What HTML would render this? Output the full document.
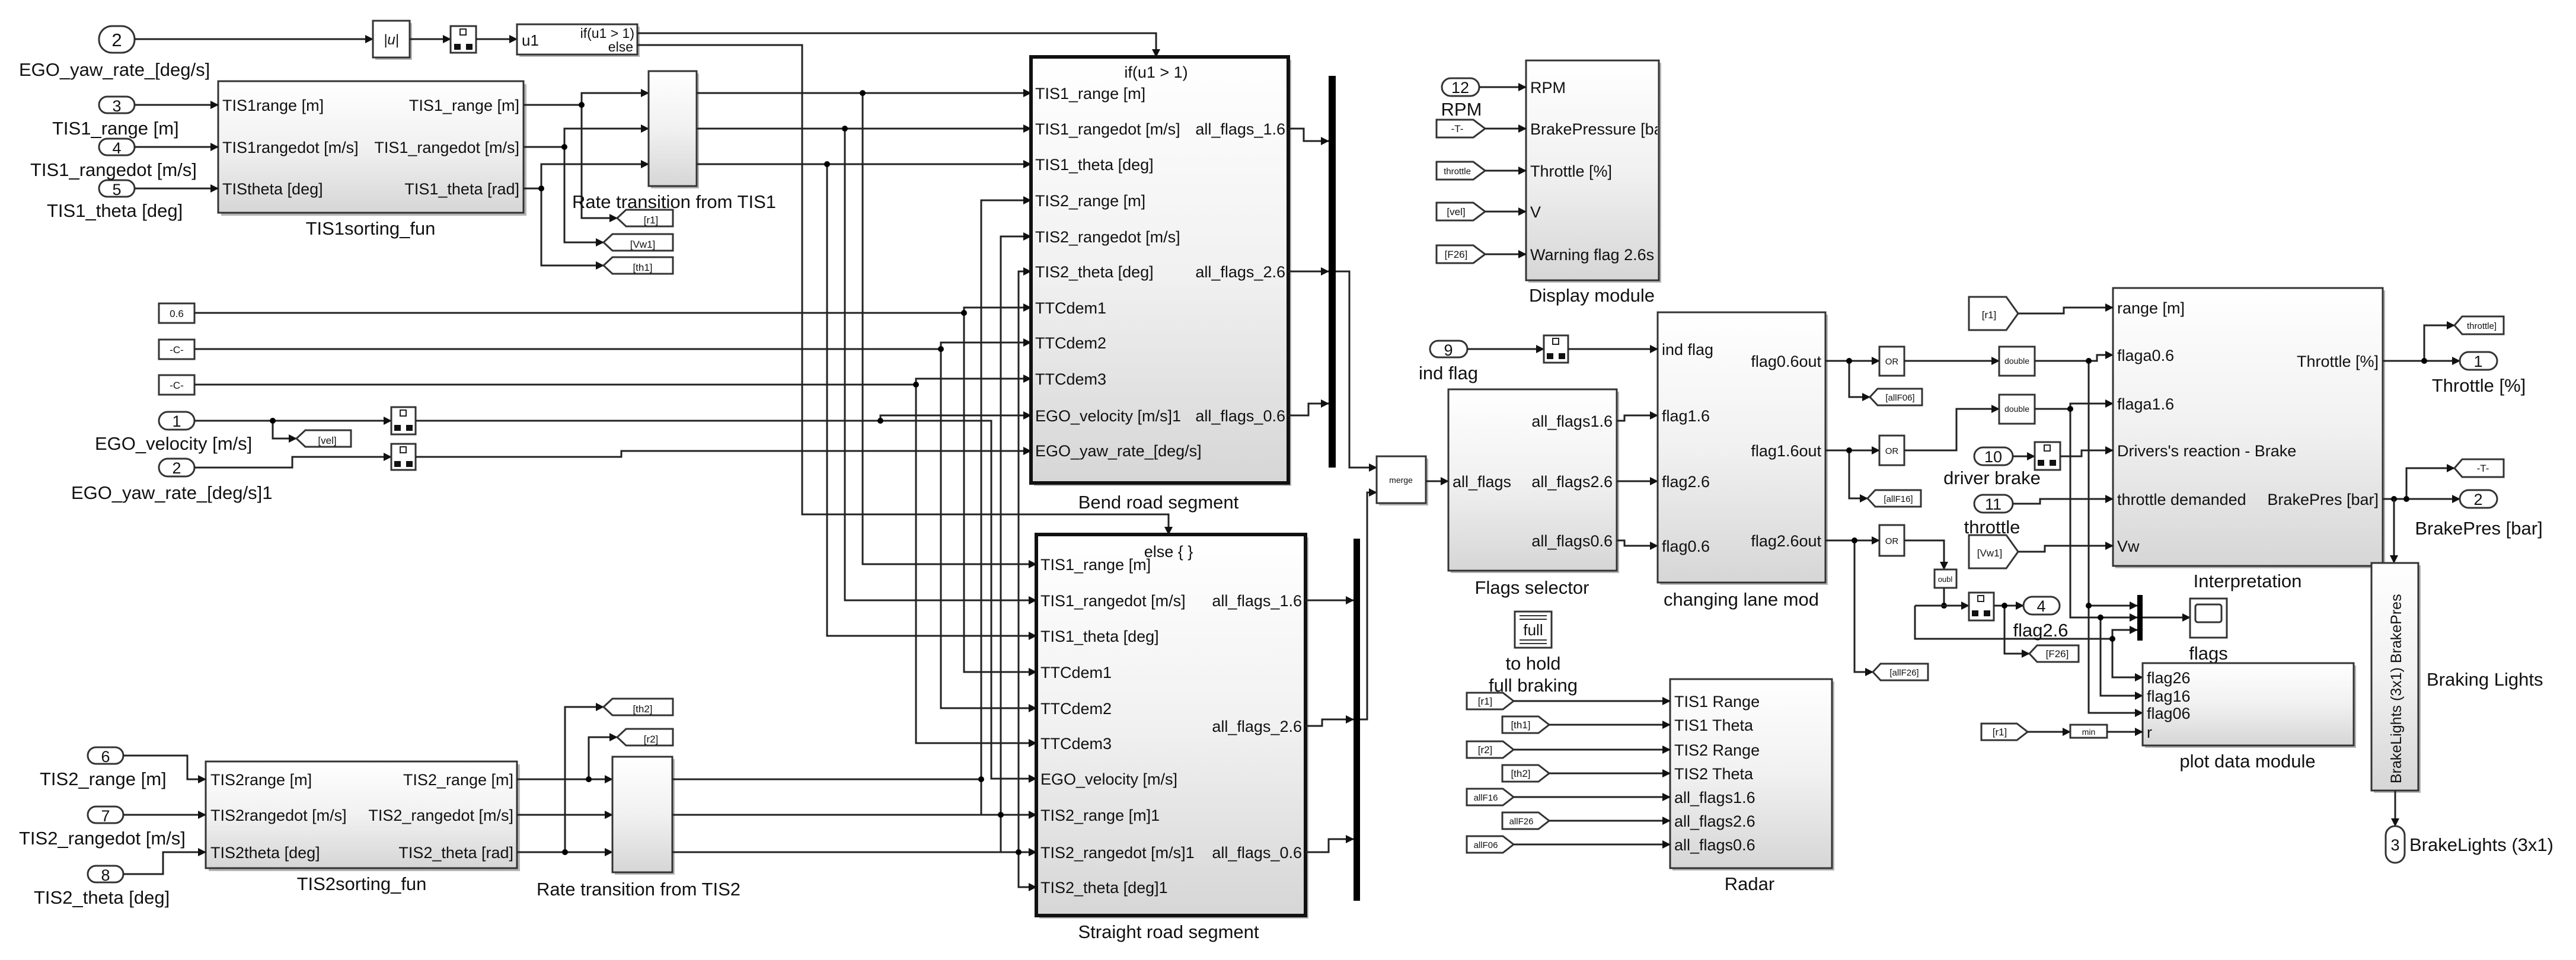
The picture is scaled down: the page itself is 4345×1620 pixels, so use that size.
<!DOCTYPE html>
<html><head><meta charset="utf-8"><style>
html,body{margin:0;padding:0;background:#fff;}
svg{display:block;}
text{font-family:"Liberation Sans",Arial,sans-serif;fill:#111;}
.p{font-size:27px;}
.l{font-size:31px;}
.s{font-size:17px;}
.w{fill:none;stroke:#222;stroke-width:3;}
.wa{fill:none;stroke:#222;stroke-width:3;marker-end:url(#a);}
.b{fill:url(#g);stroke:#333;stroke-width:3;}
.bt{fill:url(#g);stroke:#111;stroke-width:6;}
.pl{fill:#fff;stroke:#333;stroke-width:3;}
.sh{fill:#b5b5b5;}
</style></head><body>
<svg width="4345" height="1620" viewBox="0 0 4345 1620" xmlns="http://www.w3.org/2000/svg">
<defs>
<linearGradient id="g" x1="0" y1="0" x2="0" y2="1"><stop offset="0" stop-color="#ffffff"/><stop offset="0.5" stop-color="#f1f1f1"/><stop offset="1" stop-color="#d6d6d6"/></linearGradient>
<marker id="a" markerWidth="14" markerHeight="14" refX="13" refY="7" orient="auto" markerUnits="userSpaceOnUse"><path d="M0,0 L14,7 L0,14z" fill="#111"/></marker>
<clipPath id="dc"><rect x="2574" y="100" width="222" height="375"/></clipPath>
</defs>
<rect width="4345" height="1620" fill="#fff"/>

<!-- ===== top row ===== -->
<rect x="167" y="44" width="60" height="45" rx="22" class="pl"/><text x="197" y="78" class="l" text-anchor="middle">2</text>
<text x="32" y="128" class="l">EGO_yaw_rate_[deg/s]</text>
<path d="M227 66 H629" class="wa"/>
<rect x="633" y="39" width="62" height="62" class="sh"/><rect x="629" y="35" width="62" height="62" class="pl"/><text x="660" y="75" font-size="24" font-style="italic" text-anchor="middle">|u|</text>
<path d="M691 66 H760" class="wa"/>
<rect x="760" y="44" width="43" height="45" class="pl"/><rect x="776" y="49" width="10" height="10" fill="none" stroke="#222" stroke-width="2"/><rect x="766" y="74" width="11" height="10" fill="#111"/><rect x="786" y="74" width="11" height="10" fill="#111"/>
<path d="M803 66 H872" class="wa"/>
<rect x="876" y="45" width="203" height="51" class="sh"/><rect x="872" y="41" width="203" height="51" class="pl"/>
<text x="880" y="77" font-size="26">u1</text><text x="1070" y="64" font-size="23" text-anchor="end">if(u1 &gt; 1)</text><text x="1068" y="87" font-size="23" text-anchor="end">else</text>
<path d="M1075 56 H1950 V96" class="wa"/>
<path d="M1075 76 H1353 V868 H1971 V902" class="wa"/>

<!-- ===== TIS1 ===== -->
<rect x="373" y="142" width="515" height="222" class="sh"/><rect x="368" y="137" width="515" height="222" class="b"/>
<text x="375" y="187" class="p">TIS1range [m]</text><text x="375" y="258" class="p">TIS1rangedot [m/s]</text><text x="375" y="328" class="p">TIStheta [deg]</text>
<text x="876" y="187" class="p" text-anchor="end">TIS1_range [m]</text><text x="876" y="258" class="p" text-anchor="end">TIS1_rangedot [m/s]</text><text x="876" y="328" class="p" text-anchor="end">TIS1_theta [rad]</text>
<text x="625" y="396" class="l" text-anchor="middle">TIS1sorting_fun</text>
<rect x="167" y="163" width="60" height="28" rx="14" class="pl"/><text x="197" y="188" class="p" text-anchor="middle">3</text>
<rect x="167" y="234" width="60" height="28" rx="14" class="pl"/><text x="197" y="259" class="p" text-anchor="middle">4</text>
<rect x="167" y="304" width="60" height="28" rx="14" class="pl"/><text x="197" y="329" class="p" text-anchor="middle">5</text>
<path d="M227 177 H368" class="wa"/><path d="M227 248 H368" class="wa"/><path d="M227 318 H368" class="wa"/>
<text x="88" y="227" class="l">TIS1_range [m]</text><text x="51" y="297" class="l">TIS1_rangedot [m/s]</text><text x="79" y="366" class="l">TIS1_theta [deg]</text>
<path d="M883 177 H981 V157 H1094" class="wa"/><path d="M981 177 V368 H1041" class="wa"/>
<path d="M883 248 H952 V217 H1094" class="wa"/><path d="M952 248 V409 H1018" class="wa"/>
<path d="M883 318 H913 V277 H1094" class="wa"/><path d="M913 318 V448 H1018" class="wa"/>
<circle cx="981" cy="177" r="5"/><circle cx="952" cy="248" r="5"/><circle cx="913" cy="318" r="5"/>
<rect x="1098" y="124" width="81" height="194" class="sh"/><rect x="1094" y="120" width="81" height="194" class="b"/>
<text x="965" y="351" class="l">Rate transition from TIS1</text>
<polygon points="1041,368 1056,354 1135,354 1135,382 1056,382" class="pl"/><text x="1098" y="377" class="s" text-anchor="middle">[r1]</text>
<polygon points="1018,409 1033,395 1135,395 1135,423 1033,423" class="pl"/><text x="1084" y="418" class="s" text-anchor="middle">[Vw1]</text>
<polygon points="1018,448 1033,434 1135,434 1135,462 1033,462" class="pl"/><text x="1084" y="457" class="s" text-anchor="middle">[th1]</text>
<path d="M1175 157 H1739" class="wa"/><path d="M1455 157 V952 H1748" class="wa"/>
<path d="M1175 217 H1739" class="wa"/><path d="M1425 217 V1013 H1748" class="wa"/>
<path d="M1175 277 H1739" class="wa"/><path d="M1395 277 V1073 H1748" class="wa"/>
<circle cx="1455" cy="157" r="5"/><circle cx="1425" cy="217" r="5"/><circle cx="1395" cy="277" r="5"/>

<!-- constants -->
<rect x="268" y="512" width="60" height="33" class="pl"/><text x="298" y="535" class="s" text-anchor="middle">0.6</text>
<rect x="268" y="573" width="60" height="33" class="pl"/><text x="298" y="596" class="s" text-anchor="middle">-C-</text>
<rect x="268" y="633" width="60" height="33" class="pl"/><text x="298" y="656" class="s" text-anchor="middle">-C-</text>
<path d="M328 528 H1626 V519 H1739" class="wa"/><path d="M1626 528 V1134 H1748" class="wa"/>
<path d="M328 589 H1587 V578 H1739" class="wa"/><path d="M1587 589 V1195 H1748" class="wa"/>
<path d="M328 649 H1545 V639 H1739" class="wa"/><path d="M1545 649 V1254 H1748" class="wa"/>
<circle cx="1626" cy="528" r="5"/><circle cx="1587" cy="589" r="5"/><circle cx="1545" cy="649" r="5"/>

<!-- EGO velocity / yaw -->
<rect x="268" y="695" width="60" height="30" rx="15" class="pl"/><text x="298" y="720" class="p" text-anchor="middle">1</text>
<text x="160" y="759" class="l">EGO_velocity [m/s]</text>
<path d="M328 710 H660" class="wa"/><path d="M460 710 V740 H500" class="wa"/><circle cx="460" cy="710" r="5"/>
<polygon points="500,740 515,726 592,726 592,754 515,754" class="pl"/><text x="552" y="749" class="s" text-anchor="middle">[vel]</text>
<rect x="660" y="687" width="41" height="46" class="pl"/><rect x="675" y="692" width="10" height="10" fill="none" stroke="#222" stroke-width="2"/><rect x="665" y="717" width="11" height="10" fill="#111"/><rect x="685" y="717" width="11" height="10" fill="#111"/>
<path d="M701 710 H1485 V701 H1739" class="wa"/><path d="M1485 710 H1672 V1314 H1748" class="wa"/><circle cx="1485" cy="710" r="5"/>
<rect x="268" y="774" width="60" height="30" rx="15" class="pl"/><text x="298" y="799" class="p" text-anchor="middle">2</text>
<text x="120" y="842" class="l">EGO_yaw_rate_[deg/s]1</text>
<path d="M328 789 H493 V771 H660" class="wa"/>
<rect x="660" y="749" width="41" height="44" class="pl"/><rect x="675" y="754" width="10" height="10" fill="none" stroke="#222" stroke-width="2"/><rect x="665" y="778" width="11" height="10" fill="#111"/><rect x="685" y="778" width="11" height="10" fill="#111"/>
<path d="M701 771 H1048 V761 H1739" class="wa"/>

<!-- ===== TIS2 ===== -->
<rect x="352" y="1290" width="525" height="180" class="sh"/><rect x="347" y="1285" width="525" height="180" class="b"/>
<text x="355" y="1325" class="p">TIS2range [m]</text><text x="355" y="1385" class="p">TIS2rangedot [m/s]</text><text x="355" y="1448" class="p">TIS2theta [deg]</text>
<text x="866" y="1325" class="p" text-anchor="end">TIS2_range [m]</text><text x="866" y="1385" class="p" text-anchor="end">TIS2_rangedot [m/s]</text><text x="866" y="1448" class="p" text-anchor="end">TIS2_theta [rad]</text>
<text x="610" y="1502" class="l" text-anchor="middle">TIS2sorting_fun</text>
<rect x="148" y="1261" width="60" height="28" rx="14" class="pl"/><text x="178" y="1286" class="p" text-anchor="middle">6</text>
<rect x="148" y="1361" width="60" height="28" rx="14" class="pl"/><text x="178" y="1386" class="p" text-anchor="middle">7</text>
<rect x="148" y="1461" width="60" height="28" rx="14" class="pl"/><text x="178" y="1486" class="p" text-anchor="middle">8</text>
<text x="67" y="1325" class="l">TIS2_range [m]</text><text x="32" y="1425" class="l">TIS2_rangedot [m/s]</text><text x="57" y="1525" class="l">TIS2_theta [deg]</text>
<path d="M208 1275 H316 V1315 H347" class="wa"/><path d="M208 1375 H347" class="wa"/><path d="M208 1475 H275 V1438 H347" class="wa"/>
<path d="M872 1315 H1033" class="wa"/><path d="M993 1315 V1244 H1041" class="wa"/><circle cx="993" cy="1315" r="5"/>
<path d="M872 1375 H1033" class="wa"/>
<path d="M872 1438 H1033" class="wa"/><path d="M953 1438 V1193 H1018" class="wa"/><circle cx="953" cy="1438" r="5"/>
<rect x="1037" y="1281" width="101" height="195" class="sh"/><rect x="1033" y="1277" width="101" height="195" class="b"/>
<text x="905" y="1511" class="l">Rate transition from TIS2</text>
<polygon points="1018,1193 1033,1179 1135,1179 1135,1207 1033,1207" class="pl"/><text x="1084" y="1202" class="s" text-anchor="middle">[th2]</text>
<polygon points="1041,1244 1056,1230 1135,1230 1135,1258 1056,1258" class="pl"/><text x="1098" y="1253" class="s" text-anchor="middle">[r2]</text>
<path d="M1134 1315 H1655 V338 H1739" class="wa"/><path d="M1655 1315 V1375 H1748" class="wa"/><circle cx="1655" cy="1315" r="5"/>
<path d="M1134 1375 H1688 V399 H1739" class="wa"/><path d="M1688 1375 V1438 H1748" class="wa"/><circle cx="1688" cy="1375" r="5"/>
<path d="M1134 1438 H1718 V458 H1739" class="wa"/><path d="M1718 1438 V1497 H1748" class="wa"/><circle cx="1718" cy="1438" r="5"/>

<!-- ===== Bend road segment ===== -->
<rect x="1744" y="101" width="434" height="719" class="sh"/><rect x="1739" y="96" width="434" height="719" class="bt"/>
<text x="1950" y="131" class="p" text-anchor="middle">if(u1 &gt; 1)</text>
<g class="p">
<text x="1746" y="167">TIS1_range [m]</text><text x="1746" y="227">TIS1_rangedot [m/s]</text><text x="1746" y="287">TIS1_theta [deg]</text>
<text x="1746" y="348">TIS2_range [m]</text><text x="1746" y="409">TIS2_rangedot [m/s]</text><text x="1746" y="468">TIS2_theta [deg]</text>
<text x="1746" y="529">TTCdem1</text><text x="1746" y="588">TTCdem2</text><text x="1746" y="649">TTCdem3</text>
<text x="1746" y="711">EGO_velocity [m/s]1</text><text x="1746" y="770">EGO_yaw_rate_[deg/s]</text>
<text x="2168" y="227" text-anchor="end">all_flags_1.6</text><text x="2168" y="468" text-anchor="end">all_flags_2.6</text><text x="2168" y="711" text-anchor="end">all_flags_0.6</text>
</g>
<text x="1954" y="858" class="l" text-anchor="middle">Bend road segment</text>
<path d="M2173 217 H2199 V238 H2241" class="wa"/><path d="M2173 458 H2241" class="wa"/><path d="M2173 701 H2207 V681 H2241" class="wa"/>
<rect x="2241" y="128" width="12" height="661" fill="#000"/>
<path d="M2253 458 H2276 V789 H2322" class="wa"/>

<!-- ===== Straight road segment ===== -->
<rect x="1753" y="907" width="454" height="643" class="sh"/><rect x="1748" y="902" width="454" height="643" class="bt"/>
<text x="1971" y="940" class="p" text-anchor="middle">else { }</text>
<g class="p">
<text x="1755" y="962">TIS1_range [m]</text><text x="1755" y="1023">TIS1_rangedot [m/s]</text><text x="1755" y="1083">TIS1_theta [deg]</text>
<text x="1755" y="1144">TTCdem1</text><text x="1755" y="1205">TTCdem2</text><text x="1755" y="1264">TTCdem3</text>
<text x="1755" y="1324">EGO_velocity [m/s]</text><text x="1755" y="1385">TIS2_range [m]1</text><text x="1755" y="1448">TIS2_rangedot [m/s]1</text><text x="1755" y="1507">TIS2_theta [deg]1</text>
<text x="2196" y="1023" text-anchor="end">all_flags_1.6</text><text x="2196" y="1235" text-anchor="end">all_flags_2.6</text><text x="2196" y="1448" text-anchor="end">all_flags_0.6</text>
</g>
<text x="1971" y="1583" class="l" text-anchor="middle">Straight road segment</text>
<path d="M2202 1013 H2283" class="wa"/><path d="M2202 1225 H2230 V1214 H2283" class="wa"/><path d="M2202 1438 H2241 V1416 H2283" class="wa"/>
<rect x="2283" y="909" width="11" height="611" fill="#000"/>
<path d="M2294 1214 H2306 V831 H2322" class="wa"/>
<rect x="2326" y="774" width="83" height="79" class="sh"/><rect x="2322" y="770" width="83" height="79" class="pl"/><text x="2363" y="815" font-size="14" text-anchor="middle">merge</text>
<path d="M2405 812 H2443" class="wa"/>

<!-- ===== Flags selector ===== -->
<rect x="2447" y="661" width="284" height="306" class="sh"/><rect x="2443" y="657" width="284" height="306" class="b"/>
<g class="p"><text x="2450" y="822">all_flags</text><text x="2720" y="720" text-anchor="end">all_flags1.6</text><text x="2720" y="822" text-anchor="end">all_flags2.6</text><text x="2720" y="922" text-anchor="end">all_flags0.6</text></g>
<text x="2584" y="1002" class="l" text-anchor="middle">Flags selector</text>
<path d="M2727 710 H2740 V701 H2796" class="wa"/><path d="M2727 812 H2796" class="wa"/><path d="M2727 912 H2740 V921 H2796" class="wa"/>

<!-- ===== changing lane mod ===== -->
<rect x="2800" y="531" width="283" height="456" class="sh"/><rect x="2796" y="527" width="283" height="456" class="b"/>
<g class="p"><text x="2803" y="599">ind flag</text><text x="2803" y="711">flag1.6</text><text x="2803" y="822">flag2.6</text><text x="2803" y="931">flag0.6</text>
<text x="3072" y="619" text-anchor="end">flag0.6out</text><text x="3072" y="770" text-anchor="end">flag1.6out</text><text x="3072" y="922" text-anchor="end">flag2.6out</text></g>
<text x="2937" y="1022" class="l" text-anchor="middle">changing lane mod</text>
<rect x="2412" y="575" width="63" height="28" rx="14" class="pl"/><text x="2443" y="600" class="p" text-anchor="middle">9</text>
<text x="2443" y="640" class="l" text-anchor="middle">ind flag</text>
<path d="M2475 589 H2604" class="wa"/>
<rect x="2604" y="566" width="41" height="46" class="pl"/><rect x="2619" y="571" width="10" height="10" fill="none" stroke="#222" stroke-width="2"/><rect x="2609" y="596" width="11" height="10" fill="#111"/><rect x="2629" y="596" width="11" height="10" fill="#111"/>
<path d="M2645 589 H2796" class="wa"/>

<!-- ===== Display module ===== -->
<rect x="2578" y="106" width="224" height="371" class="sh"/><rect x="2574" y="102" width="224" height="371" class="b"/>
<g class="p" clip-path="url(#dc)"><text x="2581" y="157">RPM</text><text x="2581" y="227">BrakePressure [bar]</text><text x="2581" y="298">Throttle [%]</text><text x="2581" y="367">V</text><text x="2581" y="439">Warning flag 2.6s</text></g>
<text x="2685" y="509" class="l" text-anchor="middle">Display module</text>
<rect x="2432" y="132" width="63" height="30" rx="15" class="pl"/><text x="2463" y="157" class="p" text-anchor="middle">12</text>
<text x="2465" y="195" class="l" text-anchor="middle">RPM</text>
<path d="M2495 147 H2574" class="wa"/>
<polygon points="2423,202 2485,202 2505,217 2485,232 2423,232" class="pl"/><text x="2458" y="223" class="s" text-anchor="middle">-T-</text>
<polygon points="2423,273 2485,273 2505,288 2485,303 2423,303" class="pl"/><text x="2458" y="294" font-size="15" text-anchor="middle">throttle</text>
<polygon points="2423,342 2485,342 2505,357 2485,372 2423,372" class="pl"/><text x="2456" y="363" class="s" text-anchor="middle">[vel]</text>
<polygon points="2423,414 2485,414 2505,429 2485,444 2423,444" class="pl"/><text x="2456" y="435" class="s" text-anchor="middle">[F26]</text>
<path d="M2505 217 H2574" class="wa"/><path d="M2505 288 H2574" class="wa"/><path d="M2505 357 H2574" class="wa"/><path d="M2505 429 H2574" class="wa"/>

<!-- full -->
<rect x="2555" y="1032" width="62" height="61" class="pl"/><path d="M2563 1039 H2609 M2563 1045 H2609 M2563 1080 H2609 M2563 1086 H2609" stroke="#333" stroke-width="2"/>
<text x="2586" y="1072" font-size="26" text-anchor="middle">full</text>
<text x="2586" y="1130" class="l" text-anchor="middle">to hold</text><text x="2586" y="1167" class="l" text-anchor="middle">full braking</text>

<!-- ===== Radar ===== -->
<rect x="2821" y="1150" width="273" height="319" class="sh"/><rect x="2817" y="1146" width="273" height="319" class="b"/>
<g class="p"><text x="2824" y="1193">TIS1 Range</text><text x="2824" y="1233">TIS1 Theta</text><text x="2824" y="1275">TIS2 Range</text><text x="2824" y="1315">TIS2 Theta</text><text x="2824" y="1355">all_flags1.6</text><text x="2824" y="1395">all_flags2.6</text><text x="2824" y="1435">all_flags0.6</text></g>
<text x="2951" y="1502" class="l" text-anchor="middle">Radar</text>
<polygon points="2474,1169 2535,1169 2553,1183 2535,1197 2474,1197" class="pl"/><text x="2505" y="1189" class="s" text-anchor="middle">[r1]</text>
<polygon points="2534,1209 2595,1209 2613,1223 2595,1237 2534,1237" class="pl"/><text x="2565" y="1229" class="s" text-anchor="middle">[th1]</text>
<polygon points="2474,1251 2535,1251 2553,1265 2535,1279 2474,1279" class="pl"/><text x="2505" y="1271" class="s" text-anchor="middle">[r2]</text>
<polygon points="2534,1291 2595,1291 2613,1305 2595,1319 2534,1319" class="pl"/><text x="2565" y="1311" class="s" text-anchor="middle">[th2]</text>
<polygon points="2474,1331 2535,1331 2553,1345 2535,1359 2474,1359" class="pl"/><text x="2506" y="1351" font-size="15" text-anchor="middle">allF16</text>
<polygon points="2534,1371 2595,1371 2613,1385 2595,1399 2534,1399" class="pl"/><text x="2566" y="1391" font-size="15" text-anchor="middle">allF26</text>
<polygon points="2474,1411 2535,1411 2553,1425 2535,1439 2474,1439" class="pl"/><text x="2506" y="1431" font-size="15" text-anchor="middle">allF06</text>
<path d="M2553 1183 H2817" class="wa"/><path d="M2613 1223 H2817" class="wa"/><path d="M2553 1265 H2817" class="wa"/><path d="M2613 1305 H2817" class="wa"/><path d="M2553 1345 H2817" class="wa"/><path d="M2613 1385 H2817" class="wa"/><path d="M2553 1425 H2817" class="wa"/>

<!-- ===== logic ===== -->
<path d="M3079 609 H3170" class="wa"/><path d="M3119 609 V670 H3154" class="wa"/><circle cx="3119" cy="609" r="5"/>
<polygon points="3154,670 3167,656 3242,656 3242,684 3167,684" class="pl"/><text x="3205" y="676" font-size="15" text-anchor="middle">[allF06]</text>
<rect x="3170" y="585" width="42" height="49" class="pl"/><text x="3191" y="615" font-size="15" text-anchor="middle">OR</text>
<path d="M3212 609 H3372" class="wa"/>
<rect x="3372" y="585" width="60" height="49" class="pl"/><text x="3402" y="614" font-size="14" text-anchor="middle">double</text>
<path d="M3432 609 H3537 V599 H3564" class="wa"/><path d="M3523 609 V1203 H3614" class="wa"/><circle cx="3523" cy="609" r="5"/>
<path d="M3523 1022 H3605" class="wa"/><circle cx="3523" cy="1022" r="5"/>

<path d="M3079 760 H3170" class="wa"/><path d="M3119 760 V841 H3150" class="wa"/><circle cx="3119" cy="760" r="5"/>
<polygon points="3150,841 3163,827 3240,827 3240,855 3163,855" class="pl"/><text x="3202" y="847" font-size="15" text-anchor="middle">[allF16]</text>
<rect x="3170" y="735" width="42" height="50" class="pl"/><text x="3191" y="766" font-size="15" text-anchor="middle">OR</text>
<path d="M3212 760 H3300 V690 H3372" class="wa"/>
<rect x="3372" y="666" width="60" height="49" class="pl"/><text x="3402" y="695" font-size="14" text-anchor="middle">double</text>
<path d="M3432 690 H3492 V681 H3564" class="wa"/><path d="M3492 690 V1042 H3605" class="wa"/><circle cx="3492" cy="690" r="5"/>
<path d="M3543 1042 V1174 H3614" class="wa"/><circle cx="3543" cy="1042" r="5"/>

<path d="M3079 912 H3170" class="wa"/><path d="M3128 912 V1134 H3159" class="wa"/><circle cx="3128" cy="912" r="5"/>
<polygon points="3159,1134 3172,1120 3252,1120 3252,1148 3172,1148" class="pl"/><text x="3212" y="1140" font-size="15" text-anchor="middle">[allF26]</text>
<rect x="3170" y="886" width="42" height="52" class="pl"/><text x="3191" y="918" font-size="15" text-anchor="middle">OR</text>
<path d="M3212 912 H3279 V961" class="wa"/>
<rect x="3263" y="961" width="37" height="31" class="pl"/><text x="3281" y="982" font-size="13" text-anchor="middle">oubl</text>
<path d="M3279 992 V1022" class="w"/><circle cx="3279" cy="1022" r="5"/>
<path d="M3230 1022 H3321" class="wa"/><path d="M3230 1022 V1078 H3563 V1063 H3605" class="wa"/><path d="M3563 1078 V1143 H3614" class="wa"/><circle cx="3563" cy="1078" r="5"/>
<rect x="3321" y="1000" width="42" height="47" class="pl"/><rect x="3336" y="1005" width="10" height="10" fill="none" stroke="#222" stroke-width="2"/><rect x="3326" y="1030" width="11" height="10" fill="#111"/><rect x="3346" y="1030" width="11" height="10" fill="#111"/>
<path d="M3363 1022 H3413" class="wa"/><path d="M3381 1022 V1103 H3423" class="wa"/><circle cx="3381" cy="1022" r="5"/>
<polygon points="3423,1103 3436,1089 3506,1089 3506,1117 3436,1117" class="pl"/><text x="3470" y="1109" class="s" text-anchor="middle">[F26]</text>
<rect x="3413" y="1007" width="61" height="30" rx="15" class="pl"/><text x="3443" y="1032" class="p" text-anchor="middle">4</text>
<text x="3442" y="1074" class="l" text-anchor="middle">flag2.6</text>
<rect x="3605" y="1004" width="9" height="77" fill="#000"/>
<path d="M3614 1042 H3694" class="wa"/>
<rect x="3694" y="1010" width="62" height="66" class="pl"/><rect x="3703" y="1020" width="44" height="30" rx="4" fill="#fff" stroke="#333" stroke-width="3"/>
<text x="3725" y="1113" class="l" text-anchor="middle">flags</text>

<!-- plot data module -->
<rect x="3618" y="1123" width="356" height="139" class="sh"/><rect x="3614" y="1119" width="356" height="139" class="b"/>
<g class="p"><text x="3621" y="1153">flag26</text><text x="3621" y="1184">flag16</text><text x="3621" y="1213">flag06</text><text x="3621" y="1245">r</text></g>
<text x="3791" y="1295" class="l" text-anchor="middle">plot data module</text>
<polygon points="3342,1221 3402,1221 3420,1235 3402,1249 3342,1249" class="pl"/><text x="3373" y="1241" class="s" text-anchor="middle">[r1]</text>
<path d="M3420 1235 H3492" class="wa"/>
<rect x="3492" y="1223" width="62" height="22" class="pl"/><text x="3523" y="1240" font-size="14" text-anchor="middle">min</text>
<path d="M3554 1235 H3614" class="wa"/>

<!-- ===== Interpretation ===== -->
<rect x="3568" y="490" width="455" height="469" class="sh"/><rect x="3564" y="486" width="455" height="469" class="b"/>
<g class="p"><text x="3571" y="529">range [m]</text><text x="3571" y="609">flaga0.6</text><text x="3571" y="691">flaga1.6</text><text x="3571" y="770">Drivers's reaction - Brake</text><text x="3571" y="852">throttle demanded</text><text x="3571" y="931">Vw</text>
<text x="4012" y="619" text-anchor="end">Throttle [%]</text><text x="4012" y="852" text-anchor="end">BrakePres [bar]</text></g>
<text x="3791" y="991" class="l" text-anchor="middle">Interpretation</text>
<polygon points="3321,501 3384,501 3404,529 3384,557 3321,557" class="pl"/><text x="3355" y="537" class="s" text-anchor="middle">[r1]</text>
<path d="M3404 529 H3481 V519 H3564" class="wa"/>
<rect x="3330" y="755" width="65" height="30" rx="15" class="pl"/><text x="3362" y="780" class="p" text-anchor="middle">10</text>
<text x="3360" y="817" class="l" text-anchor="middle">driver brake</text>
<path d="M3395 770 H3432" class="wa"/>
<rect x="3432" y="746" width="43" height="47" class="pl"/><rect x="3448" y="751" width="10" height="10" fill="none" stroke="#222" stroke-width="2"/><rect x="3437" y="776" width="11" height="10" fill="#111"/><rect x="3457" y="776" width="11" height="10" fill="#111"/>
<path d="M3475 770 H3511 V760 H3564" class="wa"/>
<rect x="3330" y="835" width="65" height="30" rx="15" class="pl"/><text x="3362" y="860" class="p" text-anchor="middle">11</text>
<text x="3360" y="900" class="l" text-anchor="middle">throttle</text>
<path d="M3395 850 H3441 V842 H3564" class="wa"/>
<polygon points="3321,903 3384,903 3404,931 3384,959 3321,959" class="pl"/><text x="3356" y="939" class="s" text-anchor="middle">[Vw1]</text>
<path d="M3404 931 H3449 V921 H3564" class="wa"/>

<path d="M4019 609 H4149" class="wa"/><path d="M4089 609 V549 H4140" class="wa"/><circle cx="4089" cy="609" r="5"/>
<polygon points="4140,549 4153,534 4223,534 4223,564 4153,564" class="pl"/><text x="4186" y="555" font-size="15" text-anchor="middle">throttle]</text>
<rect x="4149" y="594" width="63" height="30" rx="15" class="pl"/><text x="4180" y="619" class="p" text-anchor="middle">1</text>
<text x="4181" y="661" class="l" text-anchor="middle">Throttle [%]</text>
<path d="M4019 842 H4149" class="wa"/><path d="M4059 842 V790 H4140" class="wa"/><circle cx="4059" cy="842" r="5"/><circle cx="4038" cy="842" r="5"/>
<polygon points="4140,790 4153,775 4223,775 4223,805 4153,805" class="pl"/><text x="4188" y="796" class="s" text-anchor="middle">-T-</text>
<rect x="4149" y="827" width="63" height="30" rx="15" class="pl"/><text x="4180" y="852" class="p" text-anchor="middle">2</text>
<text x="4181" y="902" class="l" text-anchor="middle">BrakePres [bar]</text>
<path d="M4038 842 V950" class="wa"/>
<rect x="4004" y="954" width="79" height="384" class="sh"/><rect x="4000" y="950" width="79" height="384" class="b"/>
<text transform="translate(4050,1322) rotate(-90)" font-size="25">BrakeLights  (3x1)    BrakePres</text>
<text x="4093" y="1157" class="l">Braking Lights</text>
<path d="M4040 1334 V1394" class="wa"/>
<rect x="4024" y="1394" width="32" height="62" rx="16" class="pl"/><text x="4040" y="1435" class="p" text-anchor="middle">3</text>
<text x="4064" y="1436" class="l">BrakeLights (3x1)</text>
</svg>
</body></html>
